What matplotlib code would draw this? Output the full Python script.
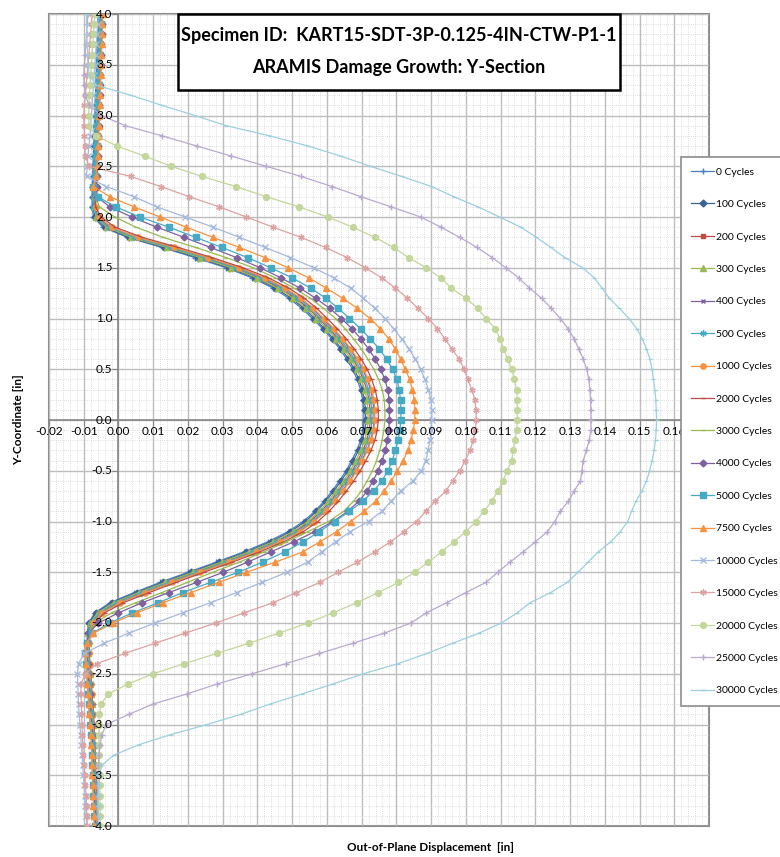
import matplotlib
matplotlib.use("Agg")
import matplotlib.pyplot as plt
from matplotlib.patches import Rectangle
from matplotlib.transforms import offset_copy
from matplotlib.ticker import MultipleLocator

plt.rcParams['font.family'] = ['Lato', 'DejaVu Sans']

# y positions of the section points (in), top to bottom
y_coord = [4.0, 3.9, 3.8, 3.7, 3.6, 3.5, 3.4, 3.3, 3.2, 3.1,
           3.0, 2.9, 2.8, 2.7, 2.6, 2.5, 2.4, 2.3, 2.2, 2.1,
           2.0, 1.9, 1.8, 1.7, 1.6, 1.5, 1.4, 1.3, 1.2, 1.1,
           1.0, 0.9, 0.8, 0.7, 0.6, 0.5, 0.4, 0.3, 0.2, 0.1,
           0.0,
           -0.1, -0.2, -0.3, -0.4, -0.5, -0.6, -0.7, -0.8, -0.9, -1.0,
           -1.1, -1.2, -1.3, -1.4, -1.5, -1.6, -1.7, -1.8, -1.9, -2.0,
           -2.1, -2.2, -2.3, -2.4, -2.5, -2.6, -2.7, -2.8, -2.9, -3.0,
           -3.1, -3.2, -3.3, -3.4, -3.5, -3.6, -3.7, -3.8, -3.9, -4.0]

labels = ['0 Cycles', '100 Cycles', '200 Cycles', '300 Cycles', '400 Cycles',
          '500 Cycles', '1000 Cycles', '2000 Cycles', '3000 Cycles', '4000 Cycles',
          '5000 Cycles', '7500 Cycles', '10000 Cycles', '15000 Cycles',
          '20000 Cycles', '25000 Cycles', '30000 Cycles']

# axis tick labels (0.17 sits under the legend, so it is not labelled)
x_ticks = [-0.02, -0.01, 0.00, 0.01, 0.02, 0.03, 0.04, 0.05, 0.06, 0.07,
           0.08, 0.09, 0.10, 0.11, 0.12, 0.13, 0.14, 0.15, 0.16]
y_ticks = [4.0, 3.5, 3.0, 2.5, 2.0, 1.5, 1.0, 0.5, 0.0,
           -0.5, -1.0, -1.5, -2.0, -2.5, -3.0, -3.5, -4.0]

# out-of-plane displacement (in) for each cycle count
x_0 = [-0.006, -0.006, -0.006, -0.0062, -0.0062, -0.0064, -0.0064, -0.0066, -0.0066, -0.0068,
       -0.0068, -0.007, -0.007, -0.0072, -0.0072, -0.0074, -0.0074, -0.0076, -0.0076, -0.0076,
       -0.0072, -0.0045, 0.0025, 0.0125, 0.022, 0.031, 0.0385, 0.0445, 0.049, 0.0528,
       0.0558, 0.0588, 0.0614, 0.0637, 0.0657, 0.0674, 0.0687, 0.0697, 0.0703, 0.0706,
       0.0707,
       0.0704, 0.0697, 0.0686, 0.0671, 0.0655, 0.0636, 0.0615, 0.0592, 0.0565, 0.0532,
       0.0488, 0.043, 0.036, 0.0282, 0.02, 0.012, 0.0045, -0.0025, -0.0068, -0.0086,
       -0.009, -0.009, -0.0088, -0.0086, -0.0084, -0.0082, -0.008, -0.0078, -0.0077, -0.0075,
       -0.0074, -0.0073, -0.0072, -0.0071, -0.007, -0.0069, -0.0068, -0.0067, -0.0066, -0.0065]
x_100 = [-0.0056, -0.0056, -0.0057, -0.0058, -0.0059, -0.006, -0.0061, -0.0062, -0.0063, -0.0064,
         -0.0065, -0.0066, -0.0067, -0.0068, -0.0069, -0.007, -0.0071, -0.0072, -0.0073, -0.0073,
         -0.0068, -0.004, 0.003, 0.0132, 0.0228, 0.0318, 0.0393, 0.0452, 0.0497, 0.0534,
         0.0564, 0.0593, 0.0619, 0.0642, 0.0662, 0.0679, 0.0692, 0.0702, 0.0708, 0.0711,
         0.0712,
         0.0709, 0.0702, 0.0691, 0.0676, 0.066, 0.0641, 0.062, 0.0597, 0.057, 0.0538,
         0.0495, 0.0438, 0.0368, 0.029, 0.0208, 0.0128, 0.0052, -0.0019, -0.0065, -0.0084,
         -0.0088, -0.0088, -0.0087, -0.0085, -0.0083, -0.0081, -0.0079, -0.0077, -0.0076, -0.0074,
         -0.0073, -0.0072, -0.0071, -0.007, -0.0069, -0.0068, -0.0067, -0.0066, -0.0065, -0.0064]
x_200 = [-0.005, -0.005, -0.0052, -0.0053, -0.0054, -0.0055, -0.0056, -0.0058, -0.006, -0.0061,
         -0.0062, -0.0063, -0.0064, -0.0065, -0.0066, -0.0068, -0.0069, -0.007, -0.0071, -0.0071,
         -0.0063, -0.0032, 0.004, 0.0145, 0.0242, 0.0332, 0.0406, 0.0465, 0.051, 0.0547,
         0.0577, 0.0606, 0.0632, 0.0655, 0.0675, 0.0692, 0.0705, 0.0715, 0.0721, 0.0724,
         0.0725,
         0.0722, 0.0715, 0.0704, 0.0689, 0.0673, 0.0654, 0.0633, 0.061, 0.0583, 0.0551,
         0.0508, 0.0451, 0.0381, 0.0303, 0.0221, 0.014, 0.0063, -0.001, -0.0058, -0.008,
         -0.0086, -0.0087, -0.0086, -0.0084, -0.0082, -0.008, -0.0078, -0.0076, -0.0075, -0.0073,
         -0.0072, -0.0071, -0.007, -0.0069, -0.0068, -0.0067, -0.0066, -0.0065, -0.0064, -0.0063]
x_300 = [-0.0052, -0.0053, -0.0054, -0.0055, -0.0056, -0.0057, -0.0058, -0.0059, -0.006, -0.0061,
         -0.0062, -0.0063, -0.0064, -0.0065, -0.0066, -0.0067, -0.0068, -0.0069, -0.007, -0.0071,
         -0.0064, -0.0034, 0.0037, 0.014, 0.0236, 0.0325, 0.0399, 0.0458, 0.0503, 0.054,
         0.057, 0.06, 0.0626, 0.0649, 0.0669, 0.0686, 0.0699, 0.0709, 0.0715, 0.0718,
         0.0719,
         0.0716, 0.0709, 0.0698, 0.0683, 0.0667, 0.0648, 0.0627, 0.0604, 0.0577, 0.0545,
         0.0502, 0.0445, 0.0375, 0.0297, 0.0215, 0.0135, 0.0058, -0.0014, -0.006, -0.0081,
         -0.0087, -0.0088, -0.0087, -0.0085, -0.0083, -0.0081, -0.0079, -0.0077, -0.0075, -0.0073,
         -0.0072, -0.0071, -0.007, -0.0069, -0.0068, -0.0067, -0.0066, -0.0065, -0.0064, -0.0063]
x_400 = [-0.0048, -0.0049, -0.005, -0.0051, -0.0052, -0.0053, -0.0055, -0.0056, -0.0057, -0.0058,
         -0.0059, -0.006, -0.0061, -0.0062, -0.0063, -0.0064, -0.0065, -0.0066, -0.0067, -0.0068,
         -0.0058, -0.0025, 0.005, 0.0156, 0.0254, 0.0344, 0.0418, 0.0477, 0.0522, 0.0558,
         0.0588, 0.0617, 0.0643, 0.0666, 0.0686, 0.0703, 0.0716, 0.0726, 0.0732, 0.0735,
         0.0736,
         0.0733, 0.0726, 0.0715, 0.07, 0.0684, 0.0665, 0.0644, 0.0621, 0.0594, 0.0562,
         0.052, 0.0463, 0.0393, 0.0315, 0.0233, 0.0152, 0.0074, 0.0001, -0.005, -0.0075,
         -0.0084, -0.0086, -0.0086, -0.0084, -0.0082, -0.008, -0.0078, -0.0076, -0.0074, -0.0072,
         -0.0071, -0.007, -0.0069, -0.0068, -0.0067, -0.0066, -0.0065, -0.0064, -0.0063, -0.0062]
x_500 = [-0.0054, -0.0055, -0.0056, -0.0057, -0.0058, -0.0059, -0.006, -0.0061, -0.0062, -0.0063,
         -0.0064, -0.0065, -0.0066, -0.0067, -0.0068, -0.0069, -0.007, -0.0071, -0.0072, -0.0072,
         -0.006, -0.0028, 0.0046, 0.015, 0.0248, 0.0338, 0.0412, 0.0471, 0.0516, 0.0552,
         0.0582, 0.0611, 0.0637, 0.066, 0.068, 0.0697, 0.071, 0.072, 0.0726, 0.0729,
         0.073,
         0.0727, 0.072, 0.0709, 0.0694, 0.0678, 0.0659, 0.0638, 0.0615, 0.0588, 0.0556,
         0.0514, 0.0457, 0.0387, 0.0309, 0.0227, 0.0146, 0.0068, -0.0005, -0.0054, -0.0078,
         -0.0086, -0.0088, -0.0087, -0.0085, -0.0083, -0.0081, -0.0079, -0.0077, -0.0075, -0.0073,
         -0.0072, -0.0071, -0.007, -0.0069, -0.0068, -0.0067, -0.0066, -0.0065, -0.0064, -0.0063]
x_1000 = [-0.0046, -0.0047, -0.0048, -0.0049, -0.005, -0.0051, -0.0052, -0.0053, -0.0054, -0.0055,
          -0.0056, -0.0057, -0.0058, -0.0059, -0.006, -0.0061, -0.0062, -0.0063, -0.0064, -0.0065,
          -0.0055, -0.002, 0.0055, 0.016, 0.0258, 0.0348, 0.0422, 0.048, 0.0525, 0.0561,
          0.0591, 0.062, 0.0646, 0.0669, 0.0689, 0.0706, 0.0719, 0.0729, 0.0735, 0.0738,
          0.0738,
          0.0735, 0.0728, 0.0717, 0.0702, 0.0686, 0.0667, 0.0646, 0.0623, 0.0596, 0.0564,
          0.0522, 0.0465, 0.0395, 0.0317, 0.0235, 0.0155, 0.0077, 0.0004, -0.0047, -0.0074,
          -0.0083, -0.0085, -0.0085, -0.0083, -0.0081, -0.0079, -0.0077, -0.0075, -0.0073, -0.0071,
          -0.007, -0.0069, -0.0068, -0.0067, -0.0066, -0.0065, -0.0064, -0.0063, -0.0062, -0.0061]
x_2000 = [-0.005, -0.005, -0.0051, -0.0052, -0.0053, -0.0054, -0.0055, -0.0056, -0.0057, -0.0058,
          -0.0059, -0.006, -0.0061, -0.0062, -0.0063, -0.0064, -0.0065, -0.0066, -0.0067, -0.0066,
          -0.005, -0.001, 0.0068, 0.0172, 0.027, 0.0358, 0.0432, 0.049, 0.0535, 0.0571,
          0.0601, 0.063, 0.0656, 0.0679, 0.0699, 0.0716, 0.0729, 0.0739, 0.0745, 0.0748,
          0.0748,
          0.0745, 0.0738, 0.0727, 0.0712, 0.0696, 0.0677, 0.0656, 0.0633, 0.0606, 0.0574,
          0.0532, 0.0476, 0.0406, 0.0328, 0.0246, 0.0166, 0.0088, 0.0014, -0.004, -0.0069,
          -0.0081, -0.0084, -0.0084, -0.0082, -0.008, -0.0078, -0.0076, -0.0074, -0.0072, -0.007,
          -0.0069, -0.0068, -0.0067, -0.0066, -0.0065, -0.0064, -0.0063, -0.0062, -0.0061, -0.006]
x_3000 = [-0.0048, -0.0049, -0.005, -0.0051, -0.0052, -0.0053, -0.0054, -0.0055, -0.0056, -0.0057,
          -0.0058, -0.0059, -0.006, -0.0061, -0.0062, -0.0063, -0.0064, -0.0065, -0.0066, -0.0055,
          -0.001, 0.005, 0.0128, 0.0222, 0.031, 0.0388, 0.0452, 0.0505, 0.0552, 0.059,
          0.0625, 0.0652, 0.0677, 0.0699, 0.0718, 0.0735, 0.0749, 0.0759, 0.0765, 0.0767,
          0.0767,
          0.0764, 0.0759, 0.0752, 0.0743, 0.0731, 0.0716, 0.0699, 0.0677, 0.0648, 0.0605,
          0.0545, 0.0483, 0.0418, 0.0348, 0.0272, 0.0198, 0.0125, 0.005, -0.002, -0.0068,
          -0.0082, -0.0086, -0.0086, -0.0084, -0.0082, -0.008, -0.0078, -0.0076, -0.0074, -0.0072,
          -0.0071, -0.007, -0.0069, -0.0068, -0.0067, -0.0066, -0.0065, -0.0064, -0.0063, -0.0062]
x_4000 = [-0.0046, -0.0047, -0.0048, -0.0049, -0.005, -0.0051, -0.0052, -0.0053, -0.0054, -0.0055,
          -0.0056, -0.0057, -0.0058, -0.0059, -0.006, -0.0061, -0.0062, -0.0063, -0.0062, -0.0025,
          0.0038, 0.011, 0.0188, 0.0265, 0.034, 0.0408, 0.0468, 0.0522, 0.0568, 0.0608,
          0.0642, 0.0672, 0.0698, 0.072, 0.0739, 0.0755, 0.0767, 0.0775, 0.0779, 0.078,
          0.078,
          0.0778, 0.0774, 0.0768, 0.0759, 0.0747, 0.0733, 0.0716, 0.0692, 0.066, 0.0618,
          0.0565, 0.0505, 0.0438, 0.0372, 0.0302, 0.0225, 0.0145, 0.0068, 0.0, -0.0058,
          -0.0085, -0.0092, -0.0091, -0.0089, -0.0087, -0.0085, -0.0083, -0.0081, -0.0079, -0.0077,
          -0.0075, -0.0074, -0.0073, -0.0072, -0.0071, -0.007, -0.0069, -0.0068, -0.0067, -0.0066]
x_5000 = [-0.005, -0.0051, -0.0052, -0.0053, -0.0054, -0.0055, -0.0056, -0.0057, -0.0058, -0.0059,
          -0.006, -0.0061, -0.0062, -0.0063, -0.0064, -0.0066, -0.0068, -0.0072, -0.006, -0.0008,
          0.0062, 0.0145, 0.0222, 0.0298, 0.0372, 0.0438, 0.05, 0.0553, 0.0597, 0.0633,
          0.0665, 0.0697, 0.0725, 0.0751, 0.0772, 0.0789, 0.0801, 0.0808, 0.0812, 0.0813,
          0.0813,
          0.081, 0.0805, 0.0797, 0.0788, 0.0776, 0.0758, 0.0735, 0.0703, 0.0665, 0.0622,
          0.0578, 0.0532, 0.0478, 0.0415, 0.0345, 0.0265, 0.0185, 0.0115, 0.004, -0.0025,
          -0.0075, -0.0092, -0.0095, -0.0093, -0.0091, -0.0089, -0.0087, -0.0085, -0.0083, -0.0081,
          -0.0079, -0.0077, -0.0076, -0.0075, -0.0074, -0.0073, -0.0072, -0.0071, -0.007, -0.0069]
x_7500 = [-0.0045, -0.0046, -0.0047, -0.0048, -0.0049, -0.005, -0.0051, -0.0052, -0.0053, -0.0054,
          -0.0055, -0.0056, -0.0057, -0.0058, -0.006, -0.0062, -0.0065, -0.0072, -0.0025, 0.0045,
          0.012, 0.0195, 0.0272, 0.0348, 0.0422, 0.0488, 0.0548, 0.0598, 0.0645, 0.0688,
          0.0724, 0.0754, 0.0778, 0.0797, 0.0812, 0.0826, 0.0838, 0.0846, 0.0851, 0.0853,
          0.0853,
          0.0849, 0.0842, 0.0833, 0.082, 0.0803, 0.0785, 0.0765, 0.074, 0.0708, 0.0668,
          0.0628, 0.058, 0.053, 0.0452, 0.0368, 0.0288, 0.0208, 0.0128, 0.0052, -0.0015,
          -0.0072, -0.0092, -0.0096, -0.0094, -0.0092, -0.009, -0.0088, -0.0086, -0.0084, -0.0082,
          -0.008, -0.0078, -0.0077, -0.0076, -0.0075, -0.0074, -0.0073, -0.0072, -0.0071, -0.007]
x_10000 = [-0.0058, -0.006, -0.0062, -0.0064, -0.0066, -0.0068, -0.007, -0.0072, -0.0074, -0.0076,
           -0.0078, -0.008, -0.0082, -0.0085, -0.0088, -0.009, -0.0092, -0.0035, 0.0045, 0.011,
           0.0192, 0.0272, 0.0348, 0.0423, 0.0495, 0.0562, 0.062, 0.0668, 0.0705, 0.0738,
           0.0768, 0.0792, 0.0815, 0.0836, 0.0855, 0.087, 0.0882, 0.0892, 0.0899, 0.0902,
           0.0902,
           0.09, 0.0897, 0.0891, 0.0885, 0.0872, 0.0848, 0.0812, 0.0785, 0.0758, 0.072,
           0.0667, 0.0625, 0.0585, 0.0545, 0.0485, 0.0413, 0.034, 0.0265, 0.0185, 0.0105,
           0.003, -0.0042, -0.0098, -0.0115, -0.0118, -0.0117, -0.0116, -0.0115, -0.0113, -0.0111,
           -0.0109, -0.0107, -0.0105, -0.0103, -0.0101, -0.0099, -0.0097, -0.0095, -0.0093, -0.0091]
x_15000 = [-0.0075, -0.0078, -0.008, -0.0083, -0.0085, -0.0088, -0.009, -0.0093, -0.0095, -0.0098,
           -0.01, -0.0099, -0.0098, -0.0097, -0.0095, -0.0085, 0.0035, 0.0122, 0.0204, 0.029,
           0.0368, 0.0445, 0.0525, 0.0596, 0.0658, 0.0711, 0.0758, 0.0797, 0.0832, 0.0862,
           0.0892, 0.0918, 0.094, 0.096, 0.0981, 0.0995, 0.1006, 0.1017, 0.1026, 0.1029,
           0.103,
           0.1027, 0.1021, 0.1012, 0.0998, 0.0983, 0.0962, 0.0942, 0.0912, 0.0885, 0.0858,
           0.0822, 0.0783, 0.0738, 0.0688, 0.0632, 0.058, 0.0512, 0.0445, 0.0362, 0.028,
           0.0192, 0.0105, 0.0018, -0.0062, -0.0095, -0.0108, -0.0108, -0.0107, -0.0106, -0.0105,
           -0.0104, -0.0103, -0.0102, -0.0099, -0.0097, -0.0095, -0.0093, -0.0092, -0.0091, -0.009]
x_20000 = [-0.0068, -0.007, -0.0072, -0.0074, -0.0076, -0.0078, -0.008, -0.0082, -0.0084, -0.0085,
           -0.0086, -0.0085, -0.0065, -0.0005, 0.0075, 0.0152, 0.024, 0.0338, 0.0425, 0.052,
           0.0602, 0.0674, 0.0738, 0.0792, 0.0835, 0.0885, 0.0928, 0.0958, 0.1, 0.1034,
           0.1058, 0.1085, 0.1098, 0.1108, 0.1121, 0.1132, 0.114, 0.1146, 0.1148, 0.1148,
           0.1148,
           0.1146, 0.1142, 0.1136, 0.1132, 0.1119, 0.1107, 0.1092, 0.1075, 0.1052, 0.1029,
           0.1, 0.0966, 0.093, 0.0892, 0.0853, 0.0806, 0.0748, 0.0686, 0.0617, 0.0545,
           0.0462, 0.0375, 0.0283, 0.019, 0.01, 0.0028, -0.003, -0.005, -0.0055, -0.0056,
           -0.0056, -0.0056, -0.0055, -0.0055, -0.0054, -0.0054, -0.0053, -0.0053, -0.0052, -0.0052]
x_25000 = [-0.0088, -0.009, -0.0092, -0.0094, -0.0096, -0.0098, -0.01, -0.0099, -0.0095, -0.0085,
           -0.005, 0.002, 0.0125, 0.0225, 0.0325, 0.0425, 0.0525, 0.0615, 0.0698, 0.0785,
           0.087, 0.0928, 0.0982, 0.1032, 0.1076, 0.1115, 0.1152, 0.1183, 0.1218, 0.1246,
           0.1272, 0.1294, 0.1312, 0.1325, 0.1338, 0.1348, 0.1354, 0.1357, 0.1359, 0.136,
           0.136,
           0.136, 0.1355, 0.1347, 0.1338, 0.1334, 0.133, 0.1312, 0.1295, 0.1272, 0.1256,
           0.1235, 0.12, 0.1165, 0.1127, 0.1092, 0.1058, 0.1, 0.0945, 0.0886, 0.0842,
           0.0765, 0.0675, 0.0578, 0.0482, 0.0385, 0.0285, 0.0196, 0.0098, 0.003, -0.0035,
           -0.0048, -0.0053, -0.0056, -0.0058, -0.0059, -0.006, -0.006, -0.006, -0.0059, -0.0058]
x_30000 = [-0.0092, -0.0092, -0.0091, -0.009, -0.0089, -0.0088, -0.0084, -0.0065, 0.0035, 0.0125,
           0.022, 0.031, 0.0435, 0.0545, 0.064, 0.0725, 0.0815, 0.0902, 0.0965, 0.1035,
           0.1097, 0.1158, 0.1203, 0.1245, 0.1285, 0.1336, 0.137, 0.1392, 0.1413, 0.1442,
           0.147, 0.1492, 0.1508, 0.152, 0.153, 0.1536, 0.154, 0.1544, 0.1547, 0.1548,
           0.1549,
           0.1548, 0.1546, 0.1542, 0.1536, 0.1529, 0.152, 0.1507, 0.149, 0.1477, 0.1466,
           0.1445, 0.1417, 0.1381, 0.1352, 0.1323, 0.1292, 0.1244, 0.1185, 0.1148, 0.1102,
           0.1038, 0.0962, 0.0888, 0.0805, 0.0705, 0.0618, 0.0528, 0.0435, 0.0352, 0.0255,
           0.015, 0.0058, -0.0012, -0.0048, -0.0055, -0.0057, -0.0058, -0.0058, -0.0057, -0.0056]

series = [x_0, x_100, x_200, x_300, x_400, x_500, x_1000, x_2000, x_3000, x_4000,
          x_5000, x_7500, x_10000, x_15000, x_20000, x_25000, x_30000]

# Excel 2007 style colours and markers
colors = ['#4A7EBB', '#3B639A', '#BE4B48', '#98B954', '#7D60A0', '#46AAC5', '#F69240',
          '#BE4B48', '#98B954', '#7D60A0', '#46AAC5', '#F69240', '#A5B9DD', '#DCA3A2',
          '#C3D69B', '#B9A9CF', '#9CCFDF']
markers = ['+', 'D', 's', '^', 'x', (6, 2, 0), 'o', '_', '_', 'D', 's', '^', 'x',
           (6, 2, 0), 'o', '+', '_']
msizes = [5, 3.5, 3.5, 4, 3.5, 4.5, 3.8, 3.5, 3.5, 3.5, 4.2, 4.2, 4.2, 4.5, 4.2, 5, 3.5]

fig = plt.figure(figsize=(7.8, 8.57), dpi=100)
ax = fig.add_axes([49 / 780, 31 / 857, 660 / 780, 812 / 857])

for xs, lab, c, m, s in zip(series, labels, colors, markers, msizes):
    ax.plot(xs, y_coord, color=c, lw=0.9, marker=m, ms=s, mec=c, mfc=c, mew=1.0,
            label=lab, zorder=3)

ax.set_xlim(-0.02, 0.17)
ax.set_ylim(-4.0, 4.0)
ax.xaxis.set_major_locator(MultipleLocator(0.01))
ax.xaxis.set_minor_locator(MultipleLocator(0.002))
ax.yaxis.set_major_locator(MultipleLocator(0.5))
ax.yaxis.set_minor_locator(MultipleLocator(0.1))

ax.grid(which='major', color='#BDBDBD', lw=1.0, zorder=0)
ax.grid(which='minor', color='#D4D4D4', lw=0.6, ls=(0, (1, 1.5)), zorder=0)
ax.set_axisbelow(True)

# axes cross at the origin, like the Excel chart
ax.spines['left'].set_position(('data', 0))
ax.spines['bottom'].set_position(('data', 0))
for side in ['left', 'bottom']:
    ax.spines[side].set_color('#868686')
    ax.spines[side].set_linewidth(1.2)
    ax.spines[side].set_zorder(1)
for side in ['top', 'right']:
    ax.spines[side].set_visible(False)
ax.patch.set_edgecolor('#8C8C8C')
ax.patch.set_linewidth(1.5)

ax.tick_params(which='major', length=4, color='#868686', labelleft=False, labelbottom=False)
ax.tick_params(which='minor', length=0)

# tick labels sit on top of the curves (as in Excel)
y_lab_tr = offset_copy(ax.transData, fig=fig, x=-6, y=0, units='dots')
for v in y_ticks:
    ax.text(0, v, '%.1f' % v, transform=y_lab_tr, ha='right', va='center',
            fontsize=8.5, zorder=4, clip_on=False)
x_lab_tr = offset_copy(ax.transData, fig=fig, x=0, y=-6, units='dots')
for v in x_ticks:
    ax.text(v, 0, '%.2f' % v, transform=x_lab_tr, ha='center', va='top',
            fontsize=8.5, zorder=4, clip_on=False)

# title box
fig.patches.append(Rectangle((178 / 780, 1 - 90 / 857), 442 / 780, 76 / 857,
                             transform=fig.transFigure, fc='white', ec='black',
                             lw=1.8, zorder=10))
fig.text(399 / 780, 1 - 35 / 857, 'Specimen ID:  KART15-SDT-3P-0.125-4IN-CTW-P1-1',
         ha='center', va='center', fontsize=13, fontweight='bold', zorder=11)
fig.text(399 / 780, 1 - 68 / 857, 'ARAMIS Damage Growth: Y-Section',
         ha='center', va='center', fontsize=13, fontweight='bold', zorder=11)

fig.text(0.552, 0.011, 'Out-of-Plane Displacement  [in]', ha='center', va='center',
         fontsize=8.5, fontweight='bold')
fig.text(0.024, 0.51, 'Y-Coordinate [in]', ha='center', va='center', rotation=90,
         fontsize=8.5, fontweight='bold')

leg = ax.legend(loc='upper left', bbox_to_anchor=(681 / 780, 1 - 157 / 857),
                bbox_transform=fig.transFigure, fontsize=7.5, labelspacing=2.22,
                handlelength=2.2, handletextpad=0.2, borderpad=1.0, borderaxespad=0,
                fancybox=False, framealpha=1, edgecolor='#8C8C8C')
leg.get_frame().set_linewidth(1.2)
leg.set_zorder(20)

fig.savefig('out.png', dpi=100)
